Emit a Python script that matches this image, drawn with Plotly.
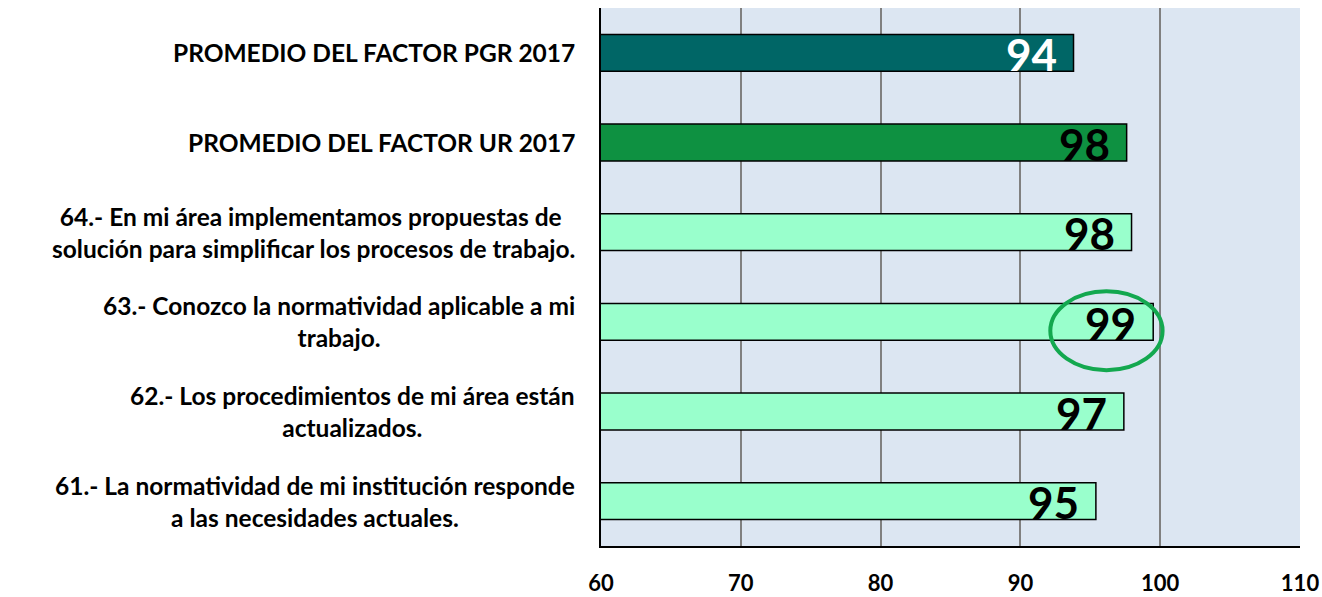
import plotly.graph_objects as go

categories = [
    "61.- La normatividad de mi institución responde<br>a las necesidades actuales.",
    "62.- Los procedimientos de mi área están<br>actualizados.",
    "63.- Conozco la normatividad aplicable a mi<br>trabajo.",
    "64.- En mi área implementamos propuestas de <br>solución para simplificar los procesos de trabajo.",
    "PROMEDIO DEL FACTOR UR 2017",
    "PROMEDIO DEL FACTOR PGR 2017",
]
values = [95.4, 97.4, 99.5, 97.95, 97.6, 93.8]
value_labels = ["95", "97", "99", "98", "98", "94"]
bar_colors = ["#99FFCC", "#99FFCC", "#99FFCC", "#99FFCC", "#0E9141", "#006666"]
label_colors = ["black", "black", "black", "black", "black", "white"]
x_ticks = [60, 70, 80, 90, 100, 110]

LFONT = "Lato, sans-serif"

fig = go.Figure()
fig.add_trace(go.Bar(
    y=list(range(len(categories))), x=values, base=0, orientation="h",
    marker=dict(color=bar_colors, line=dict(color="black", width=1.5)),
    width=0.41, hoverinfo="skip", showlegend=False,
))

for i, (v, t, c) in enumerate(zip(values, value_labels, label_colors)):
    fig.add_annotation(x=v, y=i, xref="x", yref="y", text="<b>%s</b>" % t,
                       xanchor="right", yanchor="middle", xshift=-15, yshift=-1,
                       showarrow=False, font=dict(family=LFONT, size=44, color=c))

for i, cat in enumerate(categories):
    fig.add_annotation(x=0, y=i, xref="paper", yref="y", text="<b>%s</b>" % cat,
                       xanchor="right", yanchor="middle", xshift=-24, align="center",
                       showarrow=False, font=dict(family=LFONT, size=24.5, color="black"))

fig.add_shape(type="circle", xref="x", yref="y", x0=92.14, x1=100.17, y0=1.46, y1=2.34,
              line=dict(color="#13A84F", width=4))

fig.update_layout(
    width=1322, height=597,
    margin=dict(l=601, r=22, t=8, b=51),
    paper_bgcolor="white", plot_bgcolor="#DCE6F2",
    bargap=0.59,
)
fig.update_xaxes(range=[60, 110], tickvals=x_ticks, ticktext=["<b>%d</b>" % t for t in x_ticks],
                 showgrid=True, gridcolor="#808080", gridwidth=1.5,
                 showline=True, linecolor="black", linewidth=1.5, automargin=False,
                 ticks="", ticklabelstandoff=17, zeroline=False,
                 tickfont=dict(family=LFONT, size=22, color="black"))
fig.update_yaxes(range=[-0.5, 5.5], showticklabels=False, showgrid=False, zeroline=False,
                 automargin=False,
                 showline=True, linecolor="black", linewidth=1.5)

fig.write_html("out.html", config={"displayModeBar": False},
               post_script="document.body.style.margin='0';document.body.style.overflow='hidden';")
